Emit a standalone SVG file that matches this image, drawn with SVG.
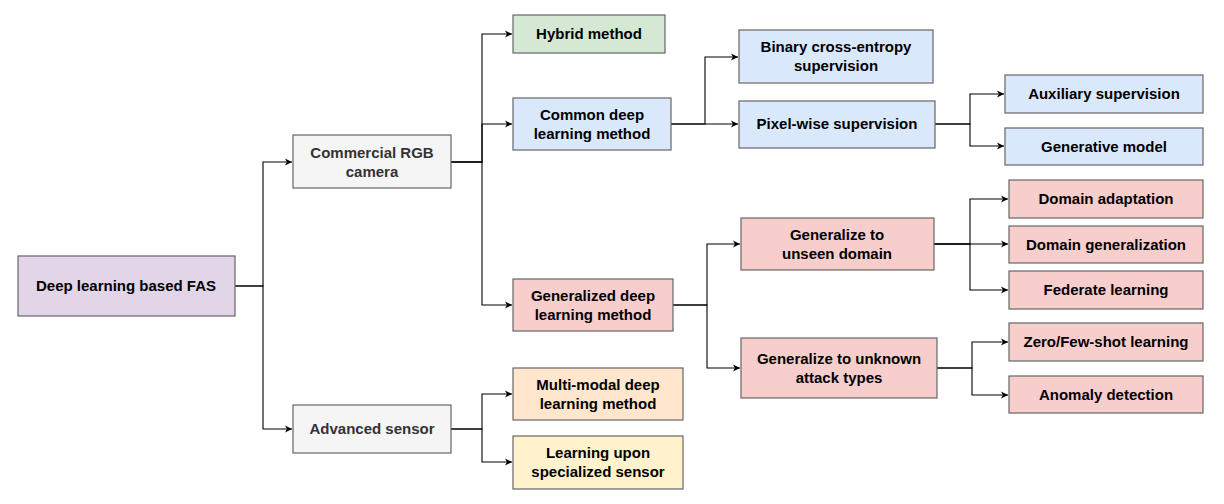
<svg xmlns="http://www.w3.org/2000/svg" width="1224" height="504" viewBox="0 0 1224 504">
<defs>
<marker id="a" markerWidth="8" markerHeight="8" refX="7" refY="4" orient="auto" markerUnits="userSpaceOnUse"><path d="M0,0.5 L7,4 L0,7.5 L2,4 Z" fill="#000"/></marker>
<style>
rect{stroke:#666;stroke-width:1.2}
text{font-family:"Liberation Sans",Arial,sans-serif;font-weight:bold;font-size:15px;text-anchor:middle;fill:#000}
.c path{fill:none;stroke:#000;stroke-width:1.1;marker-end:url(#a)}
.p{fill:#e1d5e7}.g{fill:#f5f5f5}.gr{fill:#d5e8d4}.b{fill:#dae8fc}.r{fill:#f8cecc}.o{fill:#ffe6cc}.y{fill:#fff2cc}
.gt{fill:#333}
</style>
</defs>
<rect width="1224" height="504" fill="#fff" style="stroke:none"/>
<g class="c">
<path d="M235,286 H263 V162 H292"/>
<path d="M235,286 H263 V429 H292"/>
<path d="M451,162 H482 V34 H512"/>
<path d="M451,162 H482 V124 H512"/>
<path d="M451,162 H482 V305 H512"/>
<path d="M451,429 H482 V394 H512"/>
<path d="M451,429 H482 V462 H512"/>
<path d="M671,124 H705 V57 H738"/>
<path d="M671,124 H738"/>
<path d="M935,124 H970 V94 H1004"/>
<path d="M935,124 H970 V146 H1004"/>
<path d="M673,305 H707 V244 H740"/>
<path d="M673,305 H707 V368 H740"/>
<path d="M934,244 H970 V199 H1008"/>
<path d="M934,244 H1008"/>
<path d="M934,244 H970 V290 H1008"/>
<path d="M937,368 H972 V342 H1008"/>
<path d="M937,368 H972 V395 H1008"/>
</g>
<g id="root"><rect class="p" x="18" y="256" width="217" height="60"/><text x="126" y="291">Deep learning based FAS</text></g>
<g id="rgb"><rect class="g" x="293" y="135" width="158" height="53"/><text class="gt" x="372" y="158">Commercial RGB</text><text class="gt" x="372" y="177">camera</text></g>
<g id="adv"><rect class="g" x="293" y="405" width="158" height="48"/><text class="gt" x="372" y="434">Advanced sensor</text></g>
<g id="hybrid"><rect class="gr" x="513" y="15" width="152" height="38"/><text x="589" y="39">Hybrid method</text></g>
<g id="common"><rect class="b" x="513" y="98" width="158" height="52"/><text x="592" y="120">Common deep</text><text x="592" y="139">learning method</text></g>
<g id="generalized"><rect class="r" x="513" y="279" width="160" height="52"/><text x="593" y="301">Generalized deep</text><text x="593" y="320">learning method</text></g>
<g id="multimodal"><rect class="o" x="513" y="368" width="170" height="52"/><text x="598" y="390">Multi-modal deep</text><text x="598" y="409">learning method</text></g>
<g id="specialized"><rect class="y" x="513" y="436" width="170" height="53"/><text x="598" y="458">Learning upon</text><text x="598" y="477">specialized sensor</text></g>
<g id="binary"><rect class="b" x="739" y="30" width="194" height="53"/><text x="836" y="52">Binary cross-entropy</text><text x="836" y="71">supervision</text></g>
<g id="pixel"><rect class="b" x="739" y="101" width="196" height="47"/><text x="837" y="129">Pixel-wise supervision</text></g>
<g id="aux"><rect class="b" x="1005" y="75" width="198" height="38"/><text x="1104" y="99">Auxiliary supervision</text></g>
<g id="gen"><rect class="b" x="1005" y="128" width="198" height="37"/><text x="1104" y="152">Generative model</text></g>
<g id="unseen"><rect class="r" x="741" y="218" width="193" height="52"/><text x="837" y="240">Generalize to</text><text x="837" y="259">unseen domain</text></g>
<g id="unknown"><rect class="r" x="741" y="338" width="196" height="60"/><text x="839" y="364">Generalize to unknown</text><text x="839" y="383">attack types</text></g>
<g id="da"><rect class="r" x="1009" y="180" width="194" height="38"/><text x="1106" y="204">Domain adaptation</text></g>
<g id="dg"><rect class="r" x="1009" y="226" width="194" height="37"/><text x="1106" y="250">Domain generalization</text></g>
<g id="fl"><rect class="r" x="1009" y="271" width="194" height="38"/><text x="1106" y="295">Federate learning</text></g>
<g id="zs"><rect class="r" x="1009" y="323" width="194" height="38"/><text x="1106" y="347">Zero/Few-shot learning</text></g>
<g id="ad"><rect class="r" x="1009" y="376" width="194" height="37"/><text x="1106" y="400">Anomaly detection</text></g>
</svg>
